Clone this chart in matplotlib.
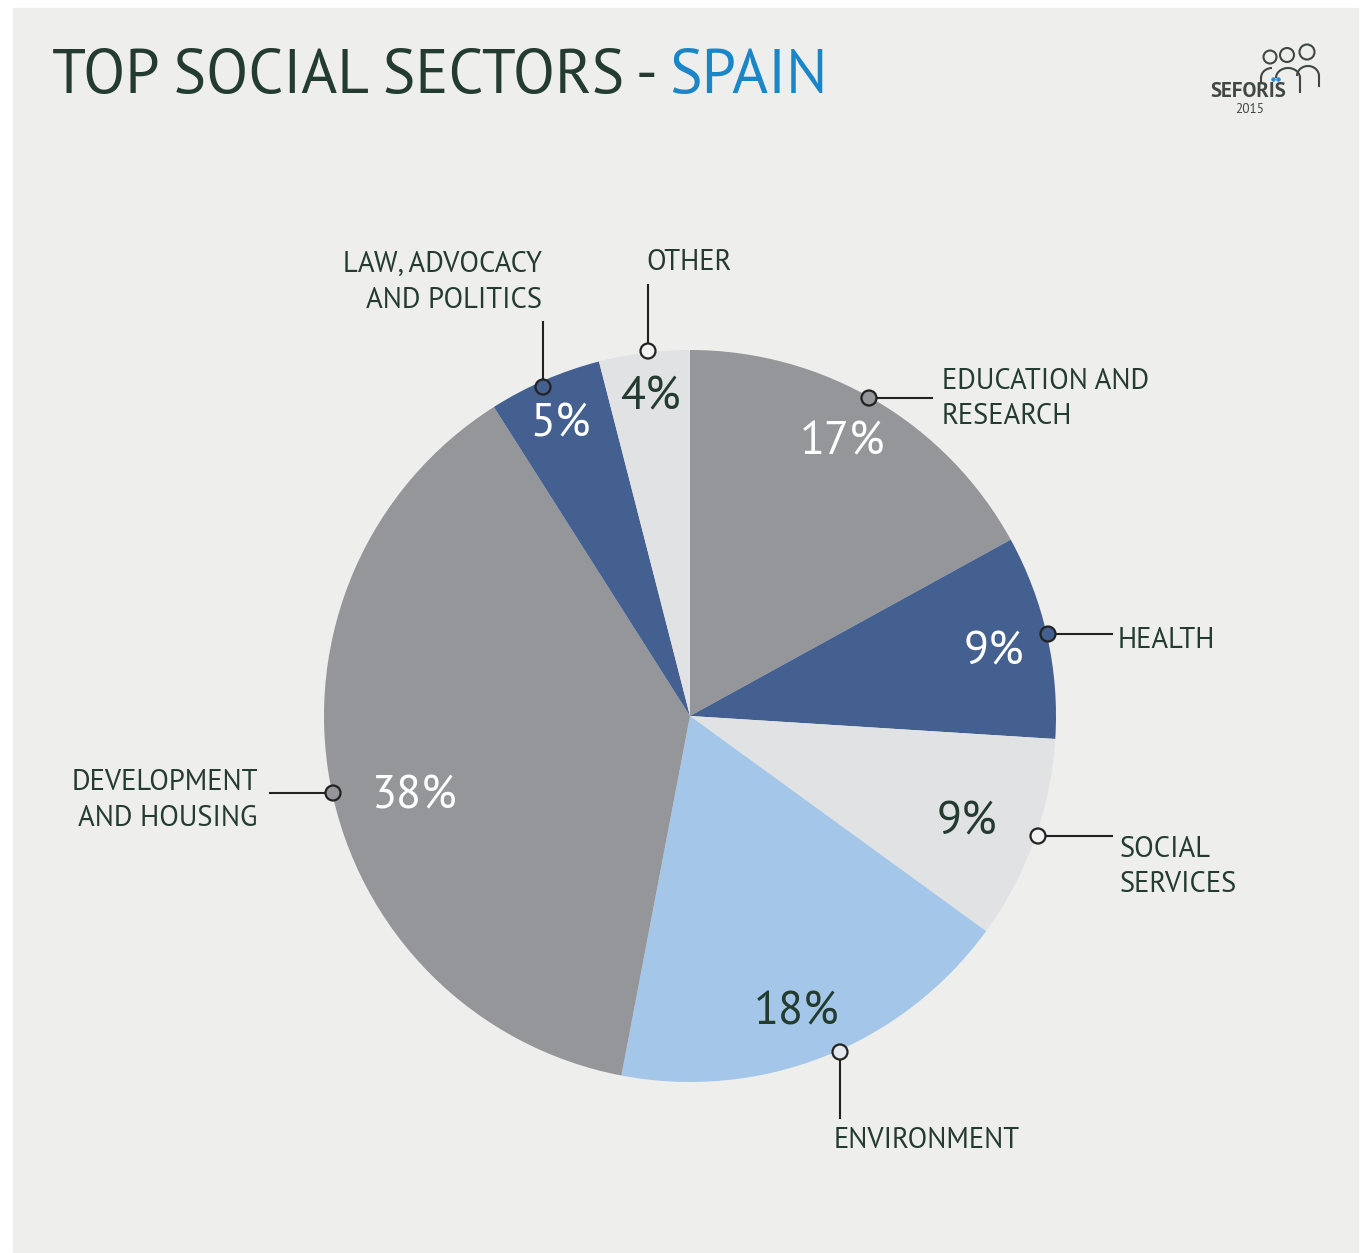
import matplotlib.pyplot as plt
from matplotlib.patches import Rectangle, Circle, Arc

W, H = 1361, 1253

sectors = ["EDUCATION AND\nRESEARCH", "HEALTH", "SOCIAL\nSERVICES", "ENVIRONMENT",
           "DEVELOPMENT\nAND HOUSING", "LAW, ADVOCACY\nAND POLITICS", "OTHER"]
shares = [17, 9, 9, 18, 38, 5, 4]
slice_colors = ["#95969a", "#436090", "#e1e2e4", "#a4c7e9", "#95969a", "#436090", "#e1e2e4"]
pct_colors = ["white", "white", "#243b30", "#243b30", "white", "white", "#243b30"]

DARK = "#243b30"
BG = "#eeeeec"
FONT = ["PT Sans", "DejaVu Sans"]


def Y(y):
    # pixel row (top-down) -> axes y (bottom-up)
    return H - y


fig = plt.figure(figsize=(W / 100, H / 100), dpi=100, facecolor="white")
ax = fig.add_axes([0, 0, 1, 1])

cx, cy, r = 690, 716, 366
ax.pie(shares, colors=slice_colors, startangle=90, counterclock=False,
       center=(cx, Y(cy)), radius=r, wedgeprops=dict(linewidth=0, antialiased=True))
ax.set_xlim(0, W)
ax.set_ylim(0, H)
ax.set_aspect("equal")
ax.axis("off")

ax.add_patch(Rectangle((13, Y(1252)), 1345, 1244, color=BG, zorder=-10))

# title, second part in blue
t = ax.text(52, Y(93), "TOP SOCIAL SECTORS - ", fontsize=44.3, family=FONT, color=DARK,
            va="baseline", ha="left")
fig.canvas.draw()
bb = t.get_window_extent()
ax.text(bb.x1, Y(93), "SPAIN", fontsize=44.3, family=FONT, color="#1a86c8",
        va="baseline", ha="left")

# percentage labels inside slices
pct_pos = [(842, 454), (994, 664), (967, 834), (797, 1024), (415, 808), (561, 436), (650, 409)]
for v, (px, py), c in zip(shares, pct_pos, pct_colors):
    ax.text(px, Y(py), f"{v}%", fontsize=33, family=FONT, color=c, ha="center", va="baseline")

# callouts: marker, leader line end, first-line baseline, alignment
callouts = [
    ((869, 398), (932, 398), (942, 389), "left"),
    ((1048, 634), (1112, 634), (1118, 648), "left"),
    ((1038, 836), (1112, 836), (1120, 857), "left"),
    ((840, 1052), (840, 1118), (927, 1148), "center"),
    ((333, 793), (270, 793), (258, 790), "right"),
    ((543, 387), (543, 322), (542, 272), "right"),
    ((648, 351), (648, 285), (646, 270), "left"),
]
marker_fill = ["#95969a", "#436090", "#f2f2f2", "#e4e9ef", "#95969a", "#436090", "#f2f2f2"]
for i, (m, e, lab, ha) in enumerate(callouts):
    ax.plot([m[0], e[0]], [Y(m[1]), Y(e[1])], color="#222222", lw=1.5, zorder=3)
    ax.add_patch(Circle((m[0], Y(m[1])), 7.5, facecolor=marker_fill[i],
                        edgecolor="#222222", lw=1.6, zorder=4))
    for k, line in enumerate(sectors[i].split("\n")):
        ax.text(lab[0], Y(lab[1] + k * 35.5), line, fontsize=20.6, family=FONT, color=DARK,
                ha=ha, va="baseline")

# logo
LOGO = "#3f4844"
ax.text(1248, Y(97), "SEFORIS", fontsize=15, family=FONT, color=LOGO,
        ha="center", va="baseline", fontweight="bold")
ax.text(1250, Y(113), "2015", fontsize=9.5, family=FONT, color=LOGO, ha="center", va="baseline")
ax.plot([1273.5, 1278.5], [Y(79), Y(79)], ls="none", marker="o", ms=2.2, color="#2a8ad0")
for hx, hy, hr in [(1270, 57, 6.5), (1287, 55, 7), (1307, 52, 7.5)]:
    ax.add_patch(Circle((hx, Y(hy)), hr, fill=False, edgecolor=LOGO, lw=1.5))
ax.add_patch(Arc((1272, Y(78)), 22, 20, theta1=90, theta2=180, edgecolor=LOGO, lw=1.5))
ax.add_patch(Arc((1288, Y(78)), 24, 20, theta1=0, theta2=180, edgecolor=LOGO, lw=1.5))
ax.add_patch(Arc((1308, Y(76)), 22, 20, theta1=0, theta2=180, edgecolor=LOGO, lw=1.5))
ax.plot([1261, 1261], [Y(78), Y(82)], color=LOGO, lw=1.5)
ax.plot([1300, 1300], [Y(78), Y(92)], color=LOGO, lw=1.5)
ax.plot([1319, 1319], [Y(76), Y(86)], color=LOGO, lw=1.5)

fig.savefig("out.png", dpi=100, facecolor="white")
